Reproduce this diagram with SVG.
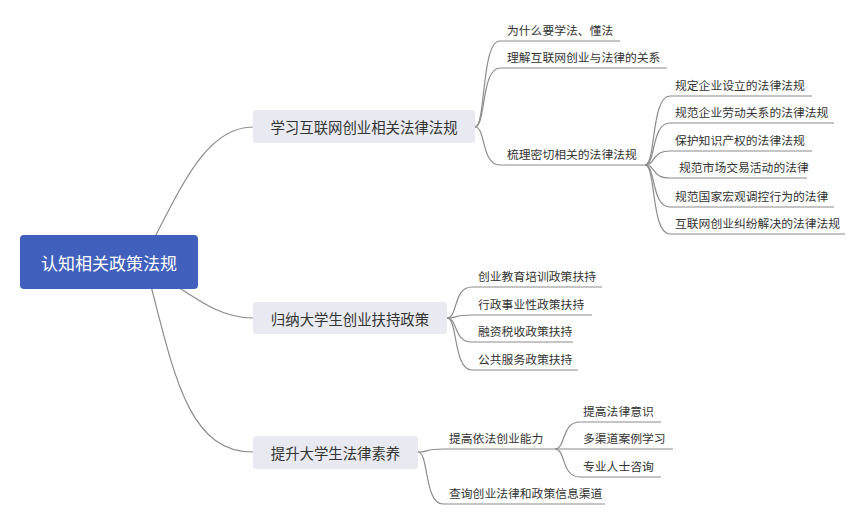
<svg xmlns="http://www.w3.org/2000/svg" width="865" height="524" viewBox="0 0 865 524">
<style>
  .bg{fill:#ffffff}
  .root rect{fill:#4160BD}
  .root text{fill:#ffffff;font-size:17px}
  .l1 rect{fill:#E9EAF1}
  .l1 text{fill:#333333;font-size:14.4px}
  text{font-family:"Noto Sans CJK SC","Noto Sans",sans-serif}
  .leaf text{fill:#333333;font-size:11.8px}
  .c path{fill:none;stroke:#8C8C8C;stroke-width:1.2}
</style>
<rect class="bg" x="0" y="0" width="865" height="524"/>
<g class="c" id="connectors">
  <path d="M148,250 C180,190 205,127 253,127"/>
  <path d="M175,285 C205,305 225,318 253,318"/>
  <path d="M150,282 C175,380 190,452 253,452"/>
  <path d="M475,127 C486,127 481,41 500,41 L620,41"/>
  <path d="M475,127 C486,127 481,68 500,68 L667,68"/>
  <path d="M475,127 C486,127 481,165 500,165 L645,165"/>
  <path d="M645,165 C656,165 651,96 670,96 L812,96"/>
  <path d="M645,165 C656,165 651,123 670,123 L834,123"/>
  <path d="M645,165 C656,165 651,151 670,151 L812,151"/>
  <path d="M645,165 C656,165 651,178 670,178 L807,178"/>
  <path d="M645,165 C656,165 651,207 670,207 L834,207"/>
  <path d="M645,165 C656,165 651,234 670,234 L845,234"/>
  <path d="M447,318 C458,318 453,287 472,287 L602,287"/>
  <path d="M447,318 C458,318 453,315 472,315 L592,315"/>
  <path d="M447,318 C458,318 453,342 472,342 L573,342"/>
  <path d="M447,318 C458,318 453,370 472,370 L578,370"/>
  <path d="M418,452 C429,452 424,449 443,449 L555,449"/>
  <path d="M418,452 C429,452 424,504 443,504 L605,504"/>
  <path d="M555,449 C566,449 561,422 580,422 L661,422"/>
  <path d="M555,449 L673,449"/>
  <path d="M555,449 C566,449 561,477 580,477 L661,477"/>
</g>
<g class="root" id="root">
  <rect x="20" y="235" width="178" height="54" rx="4"/>
  <text x="109" y="262" text-anchor="middle" dominant-baseline="central">认知相关政策法规</text>
</g>
<g class="l1" id="n1">
  <rect x="253" y="110" width="222" height="33" rx="3"/>
  <text x="364" y="126.5" text-anchor="middle" dominant-baseline="central">学习互联网创业相关法律法规</text>
</g>
<g class="l1" id="n2">
  <rect x="253" y="302" width="194" height="32" rx="3"/>
  <text x="350" y="318" text-anchor="middle" dominant-baseline="central">归纳大学生创业扶持政策</text>
</g>
<g class="l1" id="n3">
  <rect x="253" y="436" width="165" height="33" rx="3"/>
  <text x="335.5" y="452.5" text-anchor="middle" dominant-baseline="central">提升大学生法律素养</text>
</g>
<g class="leaf" id="n1a"><text x="507" y="35">为什么要学法、懂法</text></g>
<g class="leaf" id="n1b"><text x="507" y="62">理解互联网创业与法律的关系</text></g>
<g class="leaf" id="n1c"><text x="507" y="159">梳理密切相关的法律法规</text></g>
<g class="leaf" id="n1c1"><text x="675" y="90">规定企业设立的法律法规</text></g>
<g class="leaf" id="n1c2"><text x="675" y="117">规范企业劳动关系的法律法规</text></g>
<g class="leaf" id="n1c3"><text x="675" y="145">保护知识产权的法律法规</text></g>
<g class="leaf" id="n1c4"><text x="679" y="172">规范市场交易活动的法律</text></g>
<g class="leaf" id="n1c5"><text x="675" y="201">规范国家宏观调控行为的法律</text></g>
<g class="leaf" id="n1c6"><text x="675" y="228">互联网创业纠纷解决的法律法规</text></g>
<g class="leaf" id="n2a"><text x="478" y="281">创业教育培训政策扶持</text></g>
<g class="leaf" id="n2b"><text x="478" y="309">行政事业性政策扶持</text></g>
<g class="leaf" id="n2c"><text x="478" y="336">融资税收政策扶持</text></g>
<g class="leaf" id="n2d"><text x="478" y="364">公共服务政策扶持</text></g>
<g class="leaf" id="n3a"><text x="449" y="443">提高依法创业能力</text></g>
<g class="leaf" id="n3a1"><text x="583" y="416">提高法律意识</text></g>
<g class="leaf" id="n3a2"><text x="583" y="443">多渠道案例学习</text></g>
<g class="leaf" id="n3a3"><text x="583" y="471">专业人士咨询</text></g>
<g class="leaf" id="n3b"><text x="449" y="498">查询创业法律和政策信息渠道</text></g>
</svg>
